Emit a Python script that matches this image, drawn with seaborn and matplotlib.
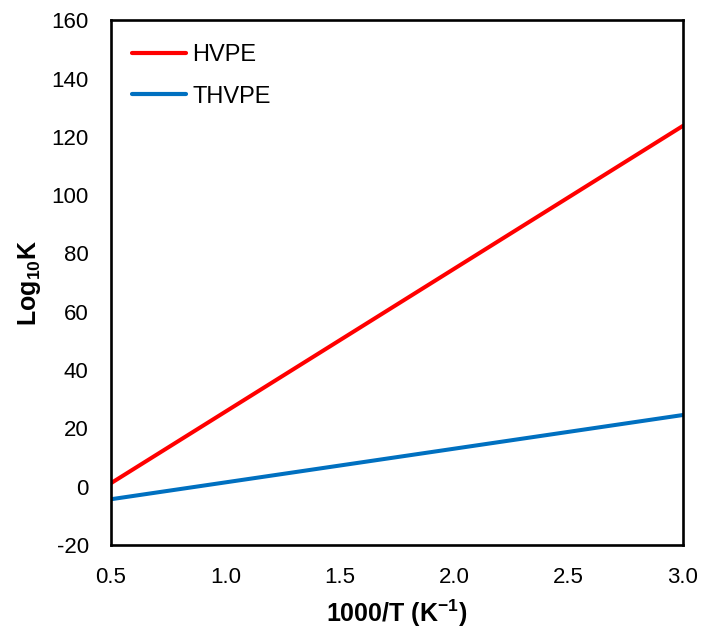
import matplotlib
matplotlib.use("Agg")
import matplotlib.pyplot as plt
import seaborn as sns
import pandas as pd

x_vals = [0.5, 3.0]
hvpe = [1.2, 123.8]
thvpe = [-4.3, 24.6]
series_names = ["HVPE", "THVPE"]
colors = ["#FF0000", "#0070C0"]
x_ticks = [0.5, 1.0, 1.5, 2.0, 2.5, 3.0]
x_tick_labels = ["0.5", "1.0", "1.5", "2.0", "2.5", "3.0"]
y_ticks = [-20, 0, 20, 40, 60, 80, 100, 120, 140, 160]

df = pd.DataFrame({
    "x": x_vals * 2,
    "y": hvpe + thvpe,
    "series": [series_names[0]] * len(x_vals) + [series_names[1]] * len(x_vals),
})

sns.set_theme(style="white")
plt.rcParams["font.family"] = ["Liberation Sans", "DejaVu Sans"]
plt.rcParams["axes.unicode_minus"] = False
plt.rcParams["mathtext.fontset"] = "custom"
plt.rcParams["mathtext.rm"] = "Liberation Sans"
plt.rcParams["mathtext.bf"] = "Liberation Sans:bold"
plt.rcParams["text.color"] = "black"
plt.rcParams["axes.labelcolor"] = "black"

fig = plt.figure(figsize=(7.02, 6.33), dpi=100)
ax = fig.add_axes([0.158, 0.139, 0.815, 0.829])
sns.lineplot(data=df, x="x", y="y", hue="series", palette=colors, linewidth=2.9, ax=ax)

ax.set_xlim(0.5, 3.0)
ax.set_ylim(-20, 160)
ax.set_xticks(x_ticks)
ax.set_xticklabels(x_tick_labels)
ax.set_yticks(y_ticks)
ax.set_yticklabels([str(v) for v in y_ticks])
ax.tick_params(axis="both", direction="in", length=6, width=1.8, labelsize=16,
               colors="black", pad=16)
for s in ax.spines.values():
    s.set_color("black")
    s.set_linewidth(1.9)

ax.set_xlabel("1000/T (K$^{\\mathbf{-1}}$)", fontsize=18, fontweight="bold", labelpad=7)
ax.set_ylabel("Log$_{\\mathbf{10}}$K", fontsize=18, fontweight="bold", labelpad=6)

leg = ax.legend(loc="upper left", bbox_to_anchor=(0.02, 0.972), frameon=False, fontsize=17,
                handlelength=2.3, handletextpad=0.25, borderaxespad=0.0,
                labelspacing=0.82, title=None)
for line in leg.get_lines():
    line.set_linewidth(3.0)

fig.savefig("out.png", dpi=100)
